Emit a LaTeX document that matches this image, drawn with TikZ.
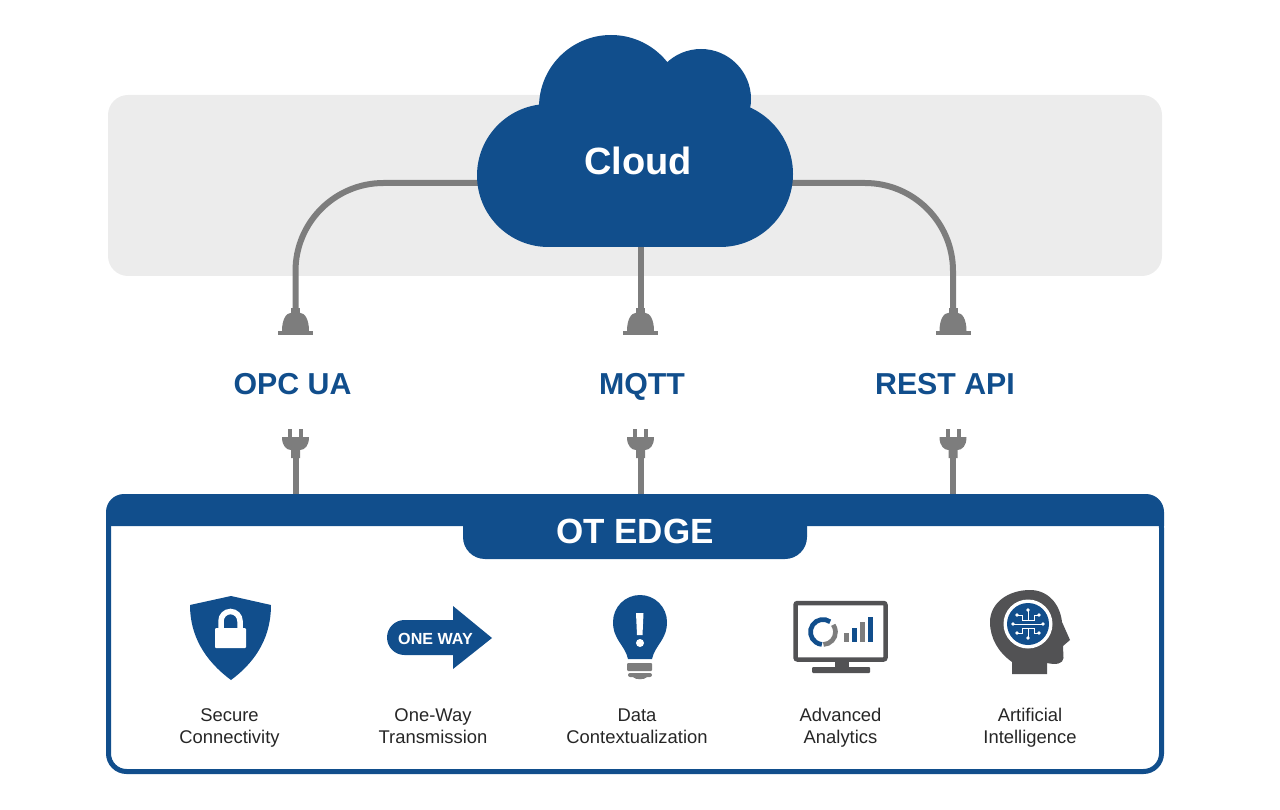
\documentclass[tikz,border=0pt]{standalone}
\usepackage{fontspec}
\setmainfont{Liberation Sans}
\usetikzlibrary{positioning, calc}
\definecolor{otblue}{RGB}{17, 78, 140}
\definecolor{cablegray}{RGB}{125, 125, 125}
\definecolor{darkgray}{RGB}{82, 82, 84}
\definecolor{panelgray}{RGB}{236, 236, 236}
\tikzset{
    cable/.style={draw=cablegray, line width=6pt},
    proto/.style={text=otblue, anchor=base, font=\bfseries\fontsize{30.3}{30.3}\selectfont},
    caption/.style={text=black!85, align=center, anchor=north, font=\fontsize{18.4}{22}\selectfont},
    socket/.pic={
        \fill[cablegray] (-4.5,-23) rectangle (4.5,-15);
        \fill[cablegray] (-13.5,0) .. controls (-13.5,-12) and (-9,-18) .. (-5,-18) -- (5,-18) .. controls (9,-18) and (13.5,-12) .. (13.5,0) -- cycle;
        \fill[cablegray] (-17.5,0) rectangle (17.5,4);
    },
    plug/.pic={
        \fill[cablegray] (-7.5,-21) rectangle (-3.5,-12);
        \fill[cablegray] (3.5,-21) rectangle (7.5,-12);
        \fill[cablegray] (-13.5,-13) -- (13.5,-13) .. controls (13.5,-4) and (9,0) .. (4.5,0) -- (4.5,8) -- (-4.5,8) -- (-4.5,0) .. controls (-9,0) and (-13.5,-4) .. (-13.5,-13) -- cycle;
    }
}
\begin{document}
\begin{tikzpicture}[x=1pt, y=-1pt]
    \useasboundingbox (0,0) rectangle (1280,810);
    % The gray band behind the cloud
    \fill[panelgray, rounded corners=20pt] (108,95) rectangle (1162,276);

    % Anchor points of the cables
    \coordinate (opccloud) at (480,183);
    \coordinate (restcloud) at (790,183);
    \coordinate (mqttcloud) at (640.5,240);
    \coordinate (opcsock) at (295.5,331);
    \coordinate (mqttsock) at (640.5,331);
    \coordinate (restsock) at (953,331);
    \coordinate (opcplug) at (295.5,450);
    \coordinate (mqttplug) at (640.5,450);
    \coordinate (restplug) at (953,450);
    \coordinate (opcedge) at (295.5,497);
    \coordinate (mqttedge) at (640.5,497);
    \coordinate (restedge) at (953,497);

    % Cables
    \draw[cable] (opccloud) -- (383.5,183) arc[start angle=270, end angle=180, radius=88] -- (opcsock);
    \draw[cable] (restcloud) -- (865,183) arc[start angle=270, end angle=360, radius=88] -- (restsock);
    \draw[cable] (mqttcloud) -- (mqttsock);
    \draw[cable] (opcplug) -- (opcedge);
    \draw[cable] (mqttplug) -- (mqttedge);
    \draw[cable] (restplug) -- (restedge);

    % Cloud
    \fill[otblue] (548.5,175.5) circle (71.5);
    \fill[otblue] (611,107) circle (72);
    \fill[otblue] (701,99) circle (50);
    \fill[otblue] (720,174) circle (73);
    \fill[otblue] (548,130) rectangle (720,247);
    \node[text=white, anchor=base, font=\bfseries\fontsize{38}{38}\selectfont] (cloud) at (638,175) {Cloud};

    % Sockets and plugs
    \foreach \n in {opc, mqtt, rest} {
        \path (\n sock) pic {socket};
        \path (\n plug) pic {plug};
    }
    \node[proto] (opc) at (292.5,394) {OPC UA};
    \node[proto] (mqtt) at (642,394) {MQTT};
    \node[proto] (rest) at (945,394) {REST API};

    % OT Edge box
    \draw[otblue, line width=5pt, rounded corners=18pt] (108.5,510) rectangle (1161.5,771.5);
    \fill[otblue] (106,526) -- (106,512) arc[start angle=180, end angle=270, radius=18] -- (1146,494) arc[start angle=270, end angle=360, radius=18] -- (1164,526) -- cycle;
    \fill[otblue, rounded corners=22pt] (463,498) rectangle (807,559);
    \node[text=white, anchor=base, font=\bfseries\fontsize{35}{35}\selectfont] (edge) at (635,543) {OT EDGE};

    % Shield
    \fill[otblue] (231,596) -- (271,605) .. controls (271,635) and (258,660) .. (231,680) .. controls (204,660) and (190,635) .. (190,605) -- cycle;
    \draw[white, line width=5.5pt] (221,632) -- (221,621) arc[start angle=180, end angle=360, radius=9.5] -- (240,632);
    \fill[white, rounded corners=1pt] (215,628) rectangle (246,648);

    % One way arrow
    \fill[otblue] (453,606) -- (492,638) -- (453,669) -- (453,655) -- (404.5,655) arc[start angle=90, end angle=270, radius=17.5] -- (453,620) -- cycle;
    \node[text=white, anchor=base, font=\bfseries\fontsize{16.1}{16.1}\selectfont] (oneway) at (435.5,644) {ONE WAY};

    % Bulb
    \fill[otblue] (628,659) .. controls (625,645) and (613,640) .. (613,622) arc[start angle=180, end angle=360, radius=27] .. controls (667,640) and (655,645) .. (652,659) -- cycle;
    \fill[white] (636,613) -- (643.5,613) -- (642.5,635) -- (637,635) -- cycle;
    \fill[white] (640,643) circle (4);
    \fill[cablegray, rounded corners=1pt] (627,663) rectangle (652,671);
    \fill[cablegray, rounded corners=2pt] (628,673) rectangle (652,677);
    \fill[cablegray] (633,677) .. controls (635,680) and (645,680) .. (647,677) -- cycle;

    % Monitor
    \draw[darkgray, line width=4.5pt, rounded corners=2pt] (795.5,603) rectangle (885.5,659.5);
    \fill[darkgray] (835,660) rectangle (849,668);
    \fill[darkgray, rounded corners=1pt] (812,667) rectangle (870,673);
    \draw[otblue, line width=4.7pt] (823,632) ++(-55:12.5) arc[start angle=-55, end angle=-265, radius=12.5];
    \draw[cablegray, line width=4.7pt] (823,632) ++(-272:12.5) arc[start angle=-272, end angle=-395, radius=12.5];
    \fill[cablegray] (844,633) rectangle (849,642);
    \fill[otblue] (852,628) rectangle (857,642);
    \fill[cablegray] (860,622) rectangle (865,642);
    \fill[otblue] (868,617) rectangle (873,642);

    % Head
    \fill[darkgray] (1012,674) -- (1012,662) .. controls (998,652) and (990,638) .. (990,622) .. controls (990,603) and (1008,590) .. (1030,590) .. controls (1048,590) and (1060,604) .. (1062,622) -- (1070,640) -- (1063,646) -- (1063.5,658) .. controls (1063,664) and (1056,665) .. (1047,663) -- (1047,674) -- cycle;
    \fill[white] (1028,624) circle (24.5);
    \fill[otblue] (1028,624) circle (21);
    \draw[white, line width=1pt] (1013,624) -- (1043,624);
    \foreach \s in {-1,1} {
        \draw[white, line width=1pt] (1028,624+14*\s) -- (1028,624+4*\s);
        \draw[white, line width=1pt] (1017,624+9*\s) -- (1022,624+9*\s) -- (1022,624+4*\s) -- (1034,624+4*\s) -- (1034,624+9*\s) -- (1039,624+9*\s);
        \fill[white] (1028+15*\s,624) circle (1.8);
        \fill[white] (1028,624+14*\s) circle (1.8);
        \fill[white] (1017,624+9*\s) circle (1.8);
        \fill[white] (1039,624+9*\s) circle (1.8);
    }

    % Captions
    \node[caption] (secure) at (229.5,705) {Secure\\Connectivity};
    \node[caption] (onewaytext) at (433,705) {One-Way\\Transmission};
    \node[caption] (data) at (637,705) {Data\\Contextualization};
    \node[caption] (analytics) at (840.5,705) {Advanced\\Analytics};
    \node[caption] (ai) at (1030,705) {Artificial\\Intelligence};
\end{tikzpicture}
\end{document}
